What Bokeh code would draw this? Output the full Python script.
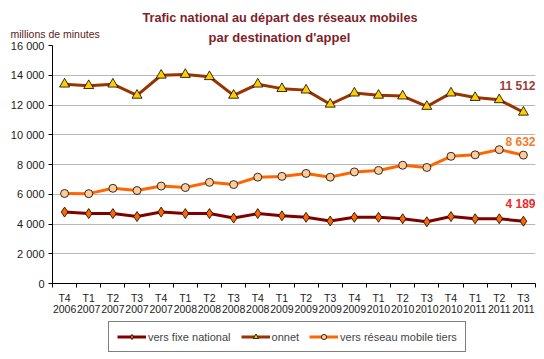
from bokeh.plotting import figure
from bokeh.layouts import column
from bokeh.models import FixedTicker, Label, Legend, LegendItem, Range1d, Title
from bokeh.embed import file_html
from bokeh.resources import INLINE

quarters = ["T4", "T1", "T2", "T3", "T4", "T1", "T2", "T3", "T4", "T1",
            "T2", "T3", "T4", "T1", "T2", "T3", "T4", "T1", "T2", "T3"]
years = ["2006", "2007", "2007", "2007", "2007", "2008", "2008", "2008", "2008", "2009",
         "2009", "2009", "2009", "2010", "2010", "2010", "2010", "2011", "2011", "2011"]

fixe_national = [4800, 4700, 4700, 4500, 4800, 4700, 4700, 4400, 4700, 4550,
                 4450, 4200, 4450, 4450, 4350, 4150, 4500, 4350, 4350, 4189]
onnet = [13400, 13300, 13400, 12650, 14000, 14050, 13900, 12650, 13400, 13100,
         13000, 12050, 12800, 12650, 12600, 11900, 12800, 12500, 12350, 11512]
mobile_tiers = [6050, 6040, 6400, 6250, 6550, 6450, 6800, 6650, 7150, 7200,
                7400, 7150, 7500, 7600, 7950, 7800, 8550, 8650, 9000, 8632]

series_names = ["vers fixe national", "onnet", "vers réseau mobile tiers"]
y_ticks = [0, 2000, 4000, 6000, 8000, 10000, 12000, 14000, 16000]

n = len(quarters)
xs = [i + 0.5 for i in range(n)]
FONT = "Liberation Sans"

STYLES = [
    dict(line="#800000", marker="diamond", size=10, fill="#FF6600"),
    dict(line="#993300", marker="triangle", size=10, fill="#FFCC00"),
    dict(line="#FF6600", marker="circle", size=8, fill="#FFCC99"),
]
DATA = [fixe_national, onnet, mobile_tiers]

p = figure(width=540, height=320, output_backend="svg", toolbar_location=None,
           x_range=Range1d(0, n), y_range=Range1d(0, 16000),
           min_border_left=52, min_border_top=45, min_border_right=5, min_border_bottom=37)
p.outline_line_color = None
p.background_fill_color = "white"
p.title.visible = False

# axes
p.yaxis.ticker = FixedTicker(ticks=y_ticks)
p.yaxis.major_label_overrides = {t: f"{t:,}".replace(",", " ") for t in y_ticks}
p.yaxis.major_tick_in = 0
p.yaxis.major_tick_out = 4
p.yaxis.minor_tick_out = 0
p.yaxis.minor_tick_in = 0
p.yaxis.axis_line_color = "black"
p.yaxis.major_tick_line_color = "black"
p.yaxis.major_label_text_font = FONT
p.yaxis.major_label_text_font_size = "11px"
p.yaxis.major_label_text_color = "#1a1a1a"
p.yaxis.major_label_standoff = 4

p.xaxis.ticker = FixedTicker(ticks=xs, minor_ticks=list(range(n + 1)))
p.xaxis.major_label_overrides = {x: f"{q}\n{y}" for x, q, y in zip(xs, quarters, years)}
p.xaxis.major_tick_in = 0
p.xaxis.major_tick_out = 0
p.xaxis.minor_tick_in = 0
p.xaxis.minor_tick_out = 4
p.xaxis.minor_tick_line_color = "black"
p.xaxis.axis_line_color = "black"
p.xaxis.major_label_text_font = FONT
p.xaxis.major_label_text_font_size = "10.5px"
p.xaxis.major_label_text_color = "#1a1a1a"
p.xaxis.major_label_text_line_height = 0.95
p.xaxis.major_label_standoff = 4

p.xgrid.grid_line_color = None
p.ygrid.ticker = FixedTicker(ticks=y_ticks)
p.ygrid.grid_line_color = "#b8b8b8"
p.ygrid.grid_line_width = 1

# series
for vals, st in zip(DATA, STYLES):
    p.line(xs, vals, line_color=st["line"], line_width=3)
    p.scatter(xs, vals, marker=st["marker"], size=st["size"], fill_color=st["fill"],
              line_color="black", line_width=0.8)

# end labels
def lab(text, yv, color):
    p.add_layout(Label(x=n, y=yv, text=text, text_align="right", text_baseline="middle",
                       text_font=FONT, text_font_size="12px", text_font_style="bold",
                       text_color=color))

lab("11 512", 13244, "#99403a")
lab("8 632", 9479, "#F5792A")
lab("4 189", 5311, "#EE2A2A")

# titles (first added = closest to the plot)
TCOL = "#7F1F2A"
p.add_layout(Title(text="millions de minutes", align="left", offset=-42, standoff=12,
                   text_font=FONT, text_font_size="10.5px", text_font_style="normal",
                   text_color="#5a1a1a"), "above")
p.add_layout(Title(text="par destination d'appel", align="left", offset=156, standoff=-51,
                   text_font=FONT, text_font_size="13px", text_font_style="bold",
                   text_color=TCOL), "above")
p.add_layout(Title(text="Trafic national au départ des réseaux mobiles", align="left",
                   offset=90, standoff=-11,
                   text_font=FONT, text_font_size="12.7px", text_font_style="bold",
                   text_color=TCOL), "above")

# legend in its own strip below the chart (series drawn out of view as legend proxies)
lg = figure(width=540, height=36, output_backend="svg", toolbar_location=None,
            x_range=Range1d(0, n), y_range=Range1d(-2, -1), min_border=0,
            x_axis_location=None, y_axis_location=None)
lg.outline_line_color = None
lg.xgrid.grid_line_color = None
lg.ygrid.grid_line_color = None
items = []
for name, vals, st in zip(series_names, DATA, STYLES):
    rl = lg.line(xs, vals, line_color=st["line"], line_width=3)
    rm = lg.scatter(xs, vals, marker=st["marker"], size=st["size"] - 2, fill_color=st["fill"],
                    line_color="black", line_width=0.8)
    items.append(LegendItem(label=name, renderers=[rl, rm]))
legend = Legend(items=items, orientation="horizontal", location=(56, 4))
legend.border_line_color = "black"
legend.border_line_width = 1
legend.label_text_font = FONT
legend.label_text_font_size = "11px"
legend.glyph_width = 29
legend.glyph_height = 13
legend.label_height = 13
legend.label_standoff = 2
legend.spacing = 10
legend.padding = 8
legend.margin = 0
lg.add_layout(legend)

layout = column(p, lg, spacing=0)
open("out.html", "w").write(file_html(layout, INLINE))
